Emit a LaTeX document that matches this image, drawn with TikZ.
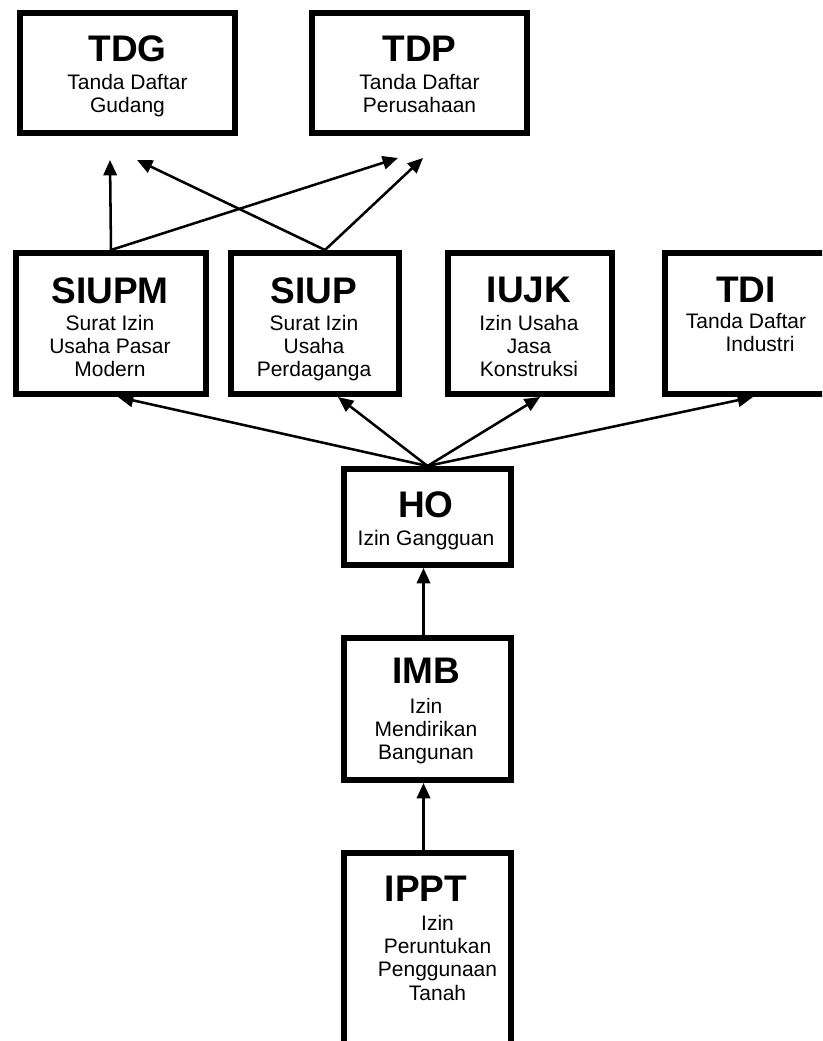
\documentclass[tikz,border=0pt]{standalone}
\usepackage{fontspec}
\setmainfont{Liberation Sans}
\usetikzlibrary{arrows.meta,calc}
\tikzset{
  box/.style={draw=black, line width=4.5pt, fill=white, inner sep=0pt, rectangle},
  ttl/.style={font=\fontsize{27.75pt}{30pt}\selectfont\bfseries, anchor=base, inner sep=0pt},
  sub/.style={font=\fontsize{15.75pt}{17.6pt}\selectfont, anchor=base, inner sep=0pt},
  subt/.style={font=\fontsize{15.75pt}{16.6pt}\selectfont, anchor=base, inner sep=0pt},
  arr/.style={line width=1.9pt, -{Triangle[length=11.5pt,width=10pt]}}
}
\newcommand{\lines}[1]{\begin{tabular}[t]{@{}c@{}}#1\end{tabular}}
\begin{document}
\begin{tikzpicture}[x=0.75pt,y=-0.75pt]
\useasboundingbox (0,0) rectangle (822,1041);
\clip (0,0) rectangle (822,1041);
\fill[white] (0,0) rectangle (822,1041);
% top row
\node[box, minimum width=215*0.75pt, minimum height=120*0.75pt] (tdg) at (127.5,73) {};
\node[box, minimum width=215*0.75pt, minimum height=120*0.75pt] (tdp) at (419.5,73) {};
% second row
\node[box, minimum width=190*0.75pt, minimum height=141*0.75pt] (siupm) at (111,323.5) {};
\node[box, minimum width=168*0.75pt, minimum height=141*0.75pt] (siup) at (315,323.5) {};
\node[box, minimum width=164*0.75pt, minimum height=141*0.75pt] (iujk) at (530,323.5) {};
\node[box, minimum width=162*0.75pt, minimum height=141*0.75pt] (tdi) at (746,323.5) {};
% column
\node[box, minimum width=167*0.75pt, minimum height=96*0.75pt] (ho) at (427.5,517) {};
\node[box, minimum width=167*0.75pt, minimum height=142*0.75pt] (imb) at (427.5,709) {};
\node[box, minimum width=167*0.75pt, minimum height=220*0.75pt] (ippt) at (427.5,963) {};
% texts
\node[ttl] (tdg-t) at (127.5,62) {TDG};
\node[subt] (tdg-s) at (127.5,90) {\lines{Tanda Daftar\\Gudang}};
\node[ttl] (tdp-t) at (419.5,62) {TDP};
\node[subt] (tdp-s) at (419.5,90) {\lines{Tanda Daftar\\Perusahaan}};
\node[ttl] (siupm-t) at (110,303) {SIUPM};
\node[sub] (siupm-s) at (110,330) {\lines{Surat Izin\\Usaha Pasar\\Modern}};
\node[ttl] (siup-t) at (314,303) {SIUP};
\node[sub] (siup-s) at (314,330) {\lines{Surat Izin\\Usaha\\Perdaganga}};
\node[ttl] (iujk-t) at (529,302) {IUJK};
\node[sub] (iujk-s) at (529,330) {\lines{Izin Usaha\\Jasa\\Konstruksi}};
\node[ttl] (tdi-t) at (746,302) {TDI};
\node[sub] (tdi-s) at (746,328) {\lines{Tanda Daftar\\\hspace*{21pt}Industri}};
\node[ttl] (ho-t) at (426,517) {HO};
\node[sub] (ho-s) at (426,545) {\lines{Izin Gangguan}};
\node[ttl] (imb-t) at (426,683) {IMB};
\node[sub] (imb-s) at (426,713) {\lines{Izin\\Mendirikan\\Bangunan}};
\node[ttl] (ippt-t) at (426,901) {IPPT};
\node[sub] (ippt-s) at (437.5,930) {\lines{Izin\\Peruntukan\\Penggunaan\\Tanah}};
% free arrow ends below the top boxes
\coordinate (tipa) at (110,160);
\coordinate (tipb) at (137,160);
\coordinate (tipc) at (398,158);
\coordinate (tipd) at (423,158);
% arrows to top row
\draw[arr] (siupm.north) -- (tipa);
\draw[arr] ($(siup.north)+(10,0)$) -- (tipb);
\draw[arr] (siupm.north) -- (tipc);
\draw[arr] ($(siup.north)+(10,0)$) -- (tipd);
% arrows from HO
\draw[arr] (ho.north) -- ($(siupm.south)+(7,0)$);
\draw[arr] (ho.north) -- ($(siup.south)+(23,0)$);
\draw[arr] (ho.north) -- ($(iujk.south)+(10,0)$);
\draw[arr] (ho.north) -- ($(tdi.south)+(7,0)$);
% vertical chain
\draw[arr] ($(imb.north)+(-4,0)$) -- ($(ho.south)+(-4,0)$);
\draw[arr] ($(ippt.north)+(-4,0)$) -- ($(imb.south)+(-4,0)$);
\end{tikzpicture}
\end{document}
